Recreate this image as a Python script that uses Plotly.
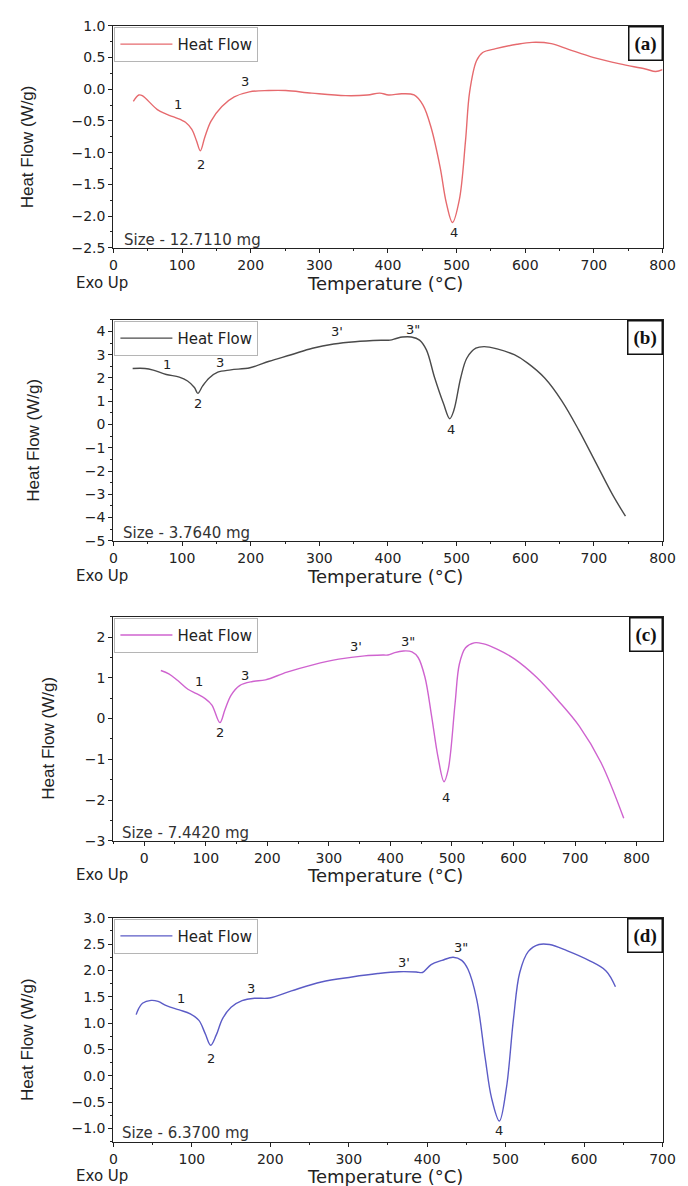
import plotly.graph_objects as go

W, H = 688, 1186

# ---------------- data ----------------
temp_a = [29, 37, 42, 64, 77, 98, 105, 114, 121, 126.6, 133, 142, 158, 176, 198, 226, 251, 289, 338, 370, 388, 401, 420, 438, 451, 463, 476, 485, 494, 504, 513, 519, 529, 538, 557, 588, 610, 638, 663, 700, 738, 775, 790, 800]
hf_a = [-0.19, -0.09, -0.10, -0.32, -0.39, -0.48, -0.52, -0.63, -0.81, -0.97, -0.76, -0.505, -0.27, -0.12, -0.04, -0.02, -0.02, -0.06, -0.10, -0.09, -0.06, -0.09, -0.07, -0.09, -0.25, -0.61, -1.23, -1.79, -2.10, -1.74, -0.81, -0.04, 0.45, 0.58, 0.64, 0.71, 0.74, 0.72, 0.63, 0.50, 0.40, 0.32, 0.28, 0.31]

temp_b = [28, 46, 58, 77, 96, 108, 118, 123, 130, 140, 152, 171, 199, 227, 259, 290, 321, 352, 390, 403, 412, 421, 434, 446, 456, 468, 481, 490, 496, 506, 515, 528, 540, 559, 584, 603, 628, 653, 678, 703, 728, 746]
hf_b = [2.41, 2.41, 2.34, 2.15, 2.04, 1.87, 1.59, 1.34, 1.66, 2.01, 2.25, 2.35, 2.44, 2.72, 3.0, 3.28, 3.46, 3.56, 3.62, 3.63, 3.70, 3.76, 3.76, 3.63, 3.21, 2.01, 0.89, 0.25, 0.61, 2.01, 2.86, 3.28, 3.35, 3.25, 3.0, 2.65, 2.01, 1.03, -0.24, -1.65, -3.06, -3.94]

temp_c = [27, 40, 54, 71, 85, 99, 110, 123, 131, 141, 155, 176, 197, 232, 274, 316, 358, 389, 396, 407, 421, 435, 445, 456, 467, 477, 487, 494, 505, 512, 522, 536, 550, 574, 602, 637, 672, 707, 742, 779]
hf_c = [1.18, 1.10, 0.94, 0.72, 0.61, 0.49, 0.33, -0.10, 0.21, 0.57, 0.81, 0.91, 0.95, 1.14, 1.32, 1.46, 1.54, 1.56, 1.56, 1.62, 1.66, 1.64, 1.50, 1.02, 0.05, -0.92, -1.55, -1.24, 0.37, 1.34, 1.74, 1.86, 1.84, 1.70, 1.46, 1.02, 0.45, -0.19, -1.08, -2.45]

temp_d = [29, 32, 37, 48, 57, 67.5, 84, 98, 109, 117, 124, 131, 139, 150, 164, 180, 199, 227, 265, 304, 337, 364, 386, 394, 405, 419, 433, 444, 452, 463, 474, 482, 492, 501, 510, 518, 529, 542.5, 556, 578, 606, 628, 640]
hf_d = [1.16, 1.27, 1.375, 1.43, 1.41, 1.33, 1.25, 1.175, 1.05, 0.80, 0.58, 0.77, 1.08, 1.30, 1.425, 1.47, 1.475, 1.61, 1.78, 1.875, 1.94, 1.975, 1.97, 1.96, 2.11, 2.19, 2.25, 2.19, 2.02, 1.46, 0.33, -0.42, -0.86, -0.23, 1.08, 1.96, 2.36, 2.49, 2.49, 2.375, 2.19, 1.99, 1.69]

# peak labels (text, temperature, heat flow)
labels_a = [("1", 94, -0.24), ("2", 128, -1.19), ("3", 192, 0.13), ("4", 496, -2.26)]
labels_b = [("1", 78, 2.58), ("2", 123, 0.89), ("3", 155, 2.68), ("3'", 326, 3.99), ('3"', 437, 4.1), ("4", 492, -0.21)]
labels_c = [("1", 89, 0.90), ("2", 123, -0.35), ("3", 164, 1.07), ("3'", 344, 1.76), ('3"', 428, 1.90), ("4", 491, -1.94)]
labels_d = [("1", 86, 1.46), ("2", 125, 0.32), ("3", 175, 1.66), ("3'", 371, 2.14), ('3"', 443, 2.44), ("4", 492, -1.03)]

sizes = ["Size - 12.7110 mg", "Size - 3.7640 mg", "Size - 7.4420 mg", "Size - 6.3700 mg"]
panel_tags = ["(a)", "(b)", "(c)", "(d)"]
colors = ["#e66a6e", "#4a4a4a", "#cf63cf", "#5b5bc6"]

x_ranges = [[0, 800], [0, 800], [-50, 842], [0, 700]]
y_ranges = [[-2.5, 1.0], [-5, 4.5], [-3, 2.5], [-1.25, 3.0]]
y_dticks = [0.5, 1, 1, 0.5]
y_formats = [".1f", "d", "d", ".1f"]
# pixel layout (top, bottom) of each plot area
rows_px = [(10, 235), (308, 532), (609, 836), (914, 1141)]
x_title_px = [271, 568, 871, 1176]
y_title_x_px = [16, 22, 38, 16]
size_pos = [(13, -2.38), (11, -4.65), (-40, -2.80), (8, -1.09)]

temps = [temp_a, temp_b, temp_c, temp_d]
flows = [hf_a, hf_b, hf_c, hf_d]
labels = [labels_a, labels_b, labels_c, labels_d]

LEFT, RIGHT = 104, 667
TICKFONT = dict(family="DejaVu Sans", size=14, color="#222")

fig = go.Figure()
annotations = []
layout = dict(
    width=W, height=H,
    margin=dict(l=0, r=0, t=0, b=0),
    paper_bgcolor="white", plot_bgcolor="white",
    showlegend=True,
)

for i in range(4):
    n = "" if i == 0 else str(i + 1)
    top, bot = rows_px[i]
    legname = "legend" if i == 0 else f"legend{i+1}"
    fig.add_trace(go.Scatter(
        x=temps[i], y=flows[i], mode="lines", name="Heat Flow",
        line=dict(color=colors[i], width=1.4, shape="spline", smoothing=1.0),
        xaxis="x" + n, yaxis="y" + n, legend=legname,
    ))
    layout[legname] = dict(
        x=(LEFT + 1) / W, y=1 - (top + 1) / H, xanchor="left", yanchor="top",
        bgcolor="white", bordercolor="#b5b5b5", borderwidth=1,
        font=dict(family="DejaVu Sans", size=15, color="#222"),
        itemwidth=52, tracegroupgap=0,
    )
    layout["xaxis" + n] = dict(
        domain=[LEFT / W, RIGHT / W], anchor="y" + n, range=x_ranges[i],
        dtick=100, tick0=0, showline=True, linecolor="#222", linewidth=1.3, mirror=True,
        ticks="outside", ticklen=4, tickcolor="#222", tickfont=TICKFONT,
        minor=dict(dtick=50, ticks="outside", ticklen=2, tickcolor="#222"),
        showgrid=False, zeroline=False,
    )
    layout["yaxis" + n] = dict(
        domain=[1 - bot / H, 1 - top / H], anchor="x" + n, range=y_ranges[i],
        dtick=y_dticks[i], tick0=0, tickformat=y_formats[i],
        showline=True, linecolor="#222", linewidth=1.3, mirror=True,
        ticks="outside", ticklen=4, tickcolor="#222", tickfont=TICKFONT,
        minor=dict(dtick=y_dticks[i] / 2, ticks="outside", ticklen=2, tickcolor="#222"),
        showgrid=False, zeroline=False,
    )
    xr, yr = "x" + n, "y" + n
    for t, xv, yv in labels[i]:
        annotations.append(dict(x=xv, y=yv, xref=xr, yref=yr, text=t, showarrow=False,
                                font=dict(family="DejaVu Sans", size=13, color="#222")))
    sx, sy = size_pos[i]
    annotations.append(dict(x=sx, y=sy, xref=xr, yref=yr, text=sizes[i], showarrow=False,
                            xanchor="left", font=dict(family="DejaVu Sans", size=15, color="#333")))
    # panel tag box
    annotations.append(dict(x=(RIGHT + 0.5) / W, y=1 - top / H, xref="paper", yref="paper",
                            xanchor="right", yanchor="top", text="<b>" + panel_tags[i] + "</b>",
                            showarrow=False, bordercolor="#111", borderwidth=1.5, borderpad=5,
                            bgcolor="white",
                            font=dict(family="Liberation Serif", size=19, color="#111")))
    # axis titles
    annotations.append(dict(x=(LEFT + RIGHT) / 2 / W - 0.005, y=1 - x_title_px[i] / H, xref="paper", yref="paper",
                            text="Temperature (°C)", showarrow=False, yanchor="middle",
                            font=dict(family="DejaVu Sans", size=18, color="#222")))
    annotations.append(dict(x=64 / W, y=1 - x_title_px[i] / H, xref="paper", yref="paper",
                            text="Exo Up", showarrow=False, yanchor="middle",
                            font=dict(family="DejaVu Sans", size=15, color="#222")))
    annotations.append(dict(x=y_title_x_px[i] / W, y=1 - ((top + bot) / 2 + 10) / H, xref="paper", yref="paper",
                            text="Heat Flow (W/g)", showarrow=False, textangle=-90,
                            xanchor="center", yanchor="middle",
                            font=dict(family="Liberation Sans Narrow, Liberation Sans", size=17, color="#222")))

layout["annotations"] = annotations
fig.update_layout(**layout)
fig.write_html("out.html")
